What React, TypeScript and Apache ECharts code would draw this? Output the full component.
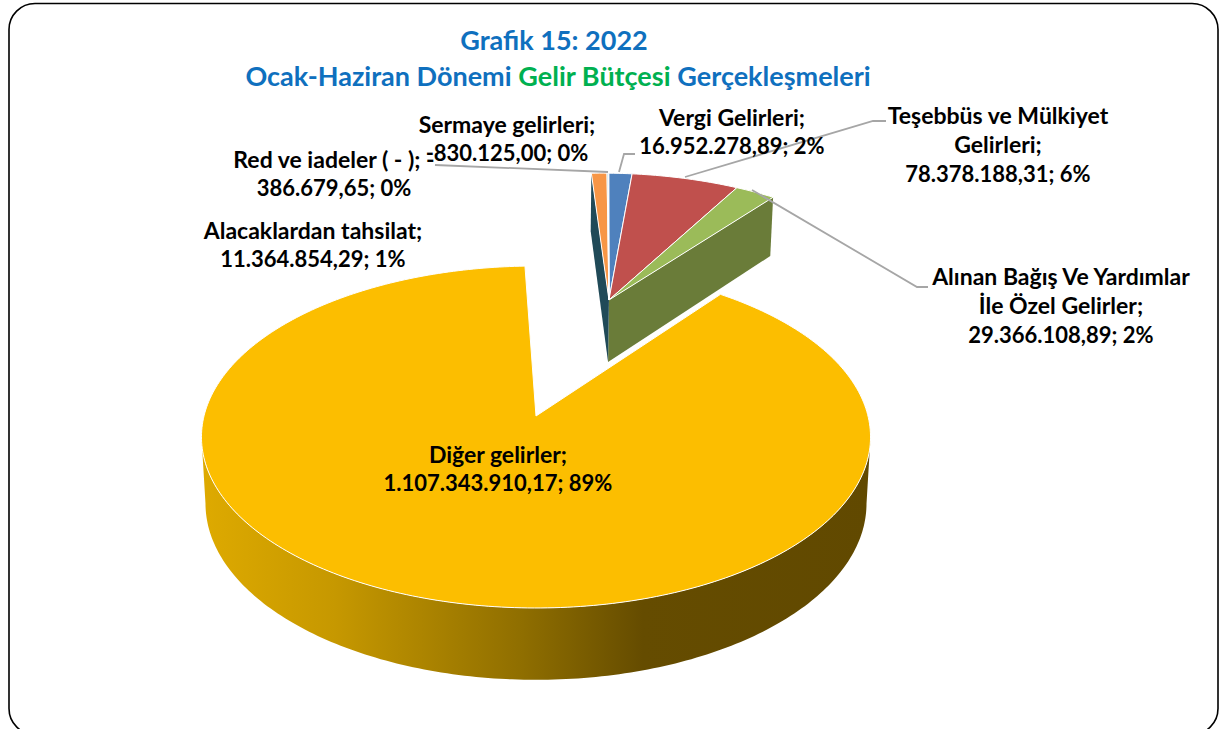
import React, { useEffect, useRef } from "react";
import * as echarts from "echarts";

// ---- data ----
const names = [
  "Vergi Gelirleri",
  "Teşebbüs ve Mülkiyet Gelirleri",
  "Alınan Bağış Ve Yardımlar İle Özel Gelirler",
  "Diğer gelirler",
  "Alacaklardan tahsilat",
  "Sermaye gelirleri",
  "Red ve iadeler ( - )",
];
const values = [
  16952278.89, 78378188.31, 29366108.89, 1107343910.17, 11364854.29, -830125.0, -386679.65,
];
const percents = ["2%", "6%", "2%", "89%", "1%", "0%", "0%"];
const titleLine1 = "Grafik 15: 2022";
const titleParts = ["Ocak-Haziran Dönemi ", "Gelir Bütçesi", " Gerçekleşmeleri"];

// ---- styles ----
const topColors = ["#4F81BD", "#C0504D", "#9BBB59", "#FCBE00", "#F79646", "#4BACC6", "#8064A2"];
const OLIVE = "#6A7C39";
const TEAL = "#204A58";
const FONT = "Lato";
const NAME_SIZE = 23;
const VALUE_SIZE = 22;
const TITLE_SIZE = 27;

// ---- perspective of the pie's top plane ----
const CX = 536, CY = 416, A = 332, B = 168.4, C = 0.1228;
const START_DEG = 1.5;
const EXPLODE_U = 0.24, EXPLODE_V = 0.7527;
const MAIN_SLICE = 3, GREEN_SLICE = 2, ORANGE_SLICE = 4;

const project = (u: number, v: number): [number, number] => {
  const w = 1 + C * v;
  return [CX + (A * u) / w, CY - (B * v) / w];
};
const depthAt = (y: number) => 62 + (y - 300) * 0.032;
const lower = ([x, y]: [number, number]): [number, number] => [CX + (x - CX) * 0.988, y + depthAt(y)];

const total = values.reduce((s, v) => s + Math.abs(v), 0);

const formatTr = (v: number) => {
  const [i, d] = Math.abs(v).toFixed(2).split(".");
  return `${v < 0 ? "-" : ""}${i.replace(/\B(?=(\d{3})+$)/g, ".")},${d}`;
};

const renderSlice = (params: any, api: any) => {
  const idx = params.dataIndex as number;
  let before = 0;
  for (let i = 0; i < idx; i++) before += Math.abs(values[i]);
  const a0 = START_DEG + (before / total) * 360;
  const a1 = a0 + (api.value(0) / total) * 360;
  const ou = idx === MAIN_SLICE ? 0 : EXPLODE_U;
  const ov = idx === MAIN_SLICE ? 0 : EXPLODE_V;
  const apex = project(ou, ov);
  const pt = (deg: number) => {
    const r = (deg * Math.PI) / 180;
    return project(ou + Math.sin(r), ov + Math.cos(r));
  };
  const arc: [number, number][] = [];
  const steps = Math.max(2, Math.ceil(a1 - a0));
  for (let i = 0; i <= steps; i++) arc.push(pt(a0 + ((a1 - a0) * i) / steps));

  const children: any[] = [];
  if (idx === MAIN_SLICE) {
    // outer rim between the two silhouette points of the projected circle
    const sil = (Math.acos(-C) * 180) / Math.PI;
    const front: [number, number][] = [];
    for (let d = sil; d <= 360 - sil + 0.001; d += (360 - 2 * sil) / 180) front.push(pt(d));
    children.push({
      type: "polygon",
      shape: { points: [...front, ...front.slice().reverse().map(lower)] },
      style: {
        fill: {
          type: "linear",
          x: 0, y: 0, x2: 1, y2: 0,
          colorStops: [
            { offset: 0, color: "#DEAA00" },
            { offset: 0.2, color: "#C69800" },
            { offset: 0.48, color: "#8F6E00" },
            { offset: 0.66, color: "#654C00" },
            { offset: 1, color: "#614900" },
          ],
        },
      },
    });
  }
  const cutFace = (outer: [number, number]) => ({
    type: "polygon",
    shape: { points: [apex, outer, lower(outer), lower(apex)] },
    style: { fill: idx === GREEN_SLICE ? OLIVE : TEAL },
  });
  if (idx === GREEN_SLICE) children.push(cutFace(arc[arc.length - 1]));
  if (idx === ORANGE_SLICE) children.push(cutFace(arc[0]));
  children.push({
    type: "polygon",
    shape: { points: [apex, ...arc] },
    style: { fill: topColors[idx], stroke: "#FFFFFF", lineWidth: 1, lineJoin: "round" },
  });
  return { type: "group", children };
};

const labelText = (nameLines: string[], valueLineText: string, x: number, y: number) => ({
  type: "text",
  z: 20,
  silent: true,
  style: {
    text: [...nameLines.map((l) => `{n|${l}}`), `{v|${valueLineText}}`].join("\n"),
    x,
    y,
    textAlign: "center",
    textVerticalAlign: "middle",
    rich: {
      n: { font: `bold ${NAME_SIZE}px ${FONT}`, fill: "#000000", lineHeight: 29 },
      v: { font: `bold ${VALUE_SIZE}px ${FONT}`, fill: "#000000", lineHeight: 29 },
    },
  },
});

const leader = (points: [number, number][]) => ({
  type: "polyline",
  z: 15,
  silent: true,
  shape: { points },
  style: { stroke: "#A6A6A6", lineWidth: 1.8, fill: "none" },
});

const valueLine = (i: number) => `${formatTr(values[i])}; ${percents[i]}`;

export default function App() {
  const ref = useRef<HTMLDivElement>(null);
  useEffect(() => {
    document.body.style.margin = "0";
    const chart = echarts.init(ref.current!, undefined, { renderer: "svg" });
    chart.setOption({
      animation: false,
      backgroundColor: "#FFFFFF",
      series: [
        {
          type: "custom",
          coordinateSystem: "none",
          silent: true,
          clip: false,
          z: 5,
          renderItem: renderSlice,
          data: values.map((v) => [Math.abs(v)]),
        },
      ],
      graphic: [
        {
          type: "rect",
          z: 1,
          silent: true,
          shape: { x: 9, y: 3.5, width: 1209, height: 731, r: 26 },
          style: { fill: "none", stroke: "#000000", lineWidth: 1.6 },
        },
        {
          type: "text",
          z: 20,
          silent: true,
          style: {
            text: titleLine1,
            x: 554,
            y: 39,
            textAlign: "center",
            textVerticalAlign: "middle",
            font: `bold ${TITLE_SIZE}px ${FONT}`,
            fill: "#0F70BE",
          },
        },
        {
          type: "text",
          z: 20,
          silent: true,
          style: {
            text: `{b|${titleParts[0]}}{g|${titleParts[1]}}{b|${titleParts[2]}}`,
            x: 558,
            y: 75,
            textAlign: "center",
            textVerticalAlign: "middle",
            rich: {
              b: { fill: "#0F70BE", font: `bold ${TITLE_SIZE}px ${FONT}` },
              g: { fill: "#00B050", font: `bold ${TITLE_SIZE}px ${FONT}` },
            },
          },
        },
        leader([[619, 172], [624, 154], [635, 154]]),
        leader([[685, 177], [873, 121], [886, 121]]),
        leader([[752, 190], [917, 287], [928, 287]]),
        leader([[435, 165], [608, 172]]),
        labelText(["Vergi Gelirleri;"], valueLine(0), 732, 131),
        labelText(["Teşebbüs ve Mülkiyet", "Gelirleri;"], valueLine(1), 998, 144),
        labelText(["Alınan Bağış Ve Yardımlar", "İle Özel Gelirler;"], valueLine(2), 1061, 305),
        labelText(["Diğer gelirler;"], valueLine(3), 498, 468),
        labelText(["Alacaklardan tahsilat;"], valueLine(4), 313, 244),
        labelText(["Sermaye gelirleri;"], valueLine(5), 507, 138),
        labelText(["Red ve iadeler ( - ); -"], `${formatTr(Math.abs(values[6]))}; ${percents[6]}`, 334, 173),
      ],
    });
    return () => chart.dispose();
  }, []);
  return <div ref={ref} style={{ width: 1223, height: 729 }} aria-label={names.join(", ")} />;
}
